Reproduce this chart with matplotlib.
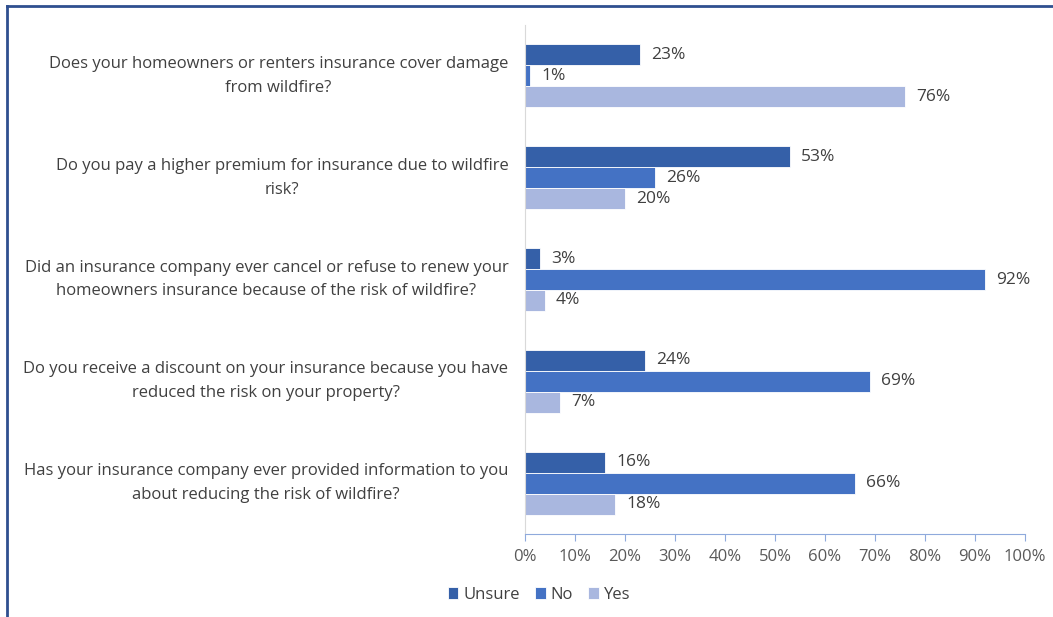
import numpy as np
from matplotlib import pyplot as plt
from matplotlib.lines import Line2D

questions = [
    "Does your homeowners or renters insurance cover damage\nfrom wildfire?",
    "Do you pay a higher premium for insurance due to wildfire\nrisk?",
    "Did an insurance company ever cancel or refuse to renew your\nhomeowners insurance because of the risk of wildfire?",
    "Do you receive a discount on your insurance because you have\nreduced the risk on your property?",
    "Has your insurance company ever provided information to you\nabout reducing the risk of wildfire?",
]
series = ["Unsure", "No", "Yes"]
unsure = [23, 53, 3, 24, 16]
no = [1, 26, 92, 69, 66]
yes = [76, 20, 4, 7, 18]
colors = ["#3560A8", "#4472C4", "#A9B7DF"]

TXT = "#404040"
plt.rcParams['font.family'] = ['Open Sans', 'DejaVu Sans']

fig = plt.figure(figsize=(10.53, 6.17), dpi=100)
ax = fig.add_axes([525/1053, 1-534/617, 500/1053, 509/617])

y = np.arange(len(questions))
h = 0.206
for i, (name, vals) in enumerate(zip(series, [unsure, no, yes])):
    pos = y + (i - 1) * h
    ax.barh(pos, vals, height=h, color=colors[i], label=name,
            edgecolor="white", linewidth=0.6)
    for p, v in zip(pos, vals):
        ax.text(v + 2.2, p, "{}%".format(v), va="center", ha="left",
                fontsize=12.5, color=TXT)

ax.set_xlim(0, 100)
ax.set_ylim(len(questions) - 0.5, -0.5)
ax.set_xticks(np.arange(0, 101, 10))
ax.set_xticklabels(["{}%".format(t) for t in range(0, 101, 10)], fontsize=12, color="#595959")
ax.set_yticks(y)
ax.set_yticklabels(questions, fontsize=12, color=TXT, ha="right", va="center",
                   multialignment="center", linespacing=1.65)
ax.tick_params(axis="y", length=0, pad=12)
ax.tick_params(axis="x", length=5, color="#8FAADC", pad=6)
for s in ["top", "right"]:
    ax.spines[s].set_visible(False)
ax.spines["bottom"].set_color("#8FAADC")
ax.spines["left"].set_color("#D9D9D9")

ax.legend(loc="upper left", bbox_to_anchor=(-0.185, -0.075), ncol=3, frameon=False,
          fontsize=12, handlelength=0.65, handleheight=0.75, handletextpad=0.3,
          columnspacing=0.9, labelcolor=TXT)

# frame lines along top and left edge
fig.add_artist(Line2D([7/1053, 1], [1-6/617, 1-6/617], color="#2F4F8F", lw=2))
fig.add_artist(Line2D([7/1053, 7/1053], [0, 1-6/617], color="#2F4F8F", lw=2))

plt.savefig("out.png", dpi=100)
